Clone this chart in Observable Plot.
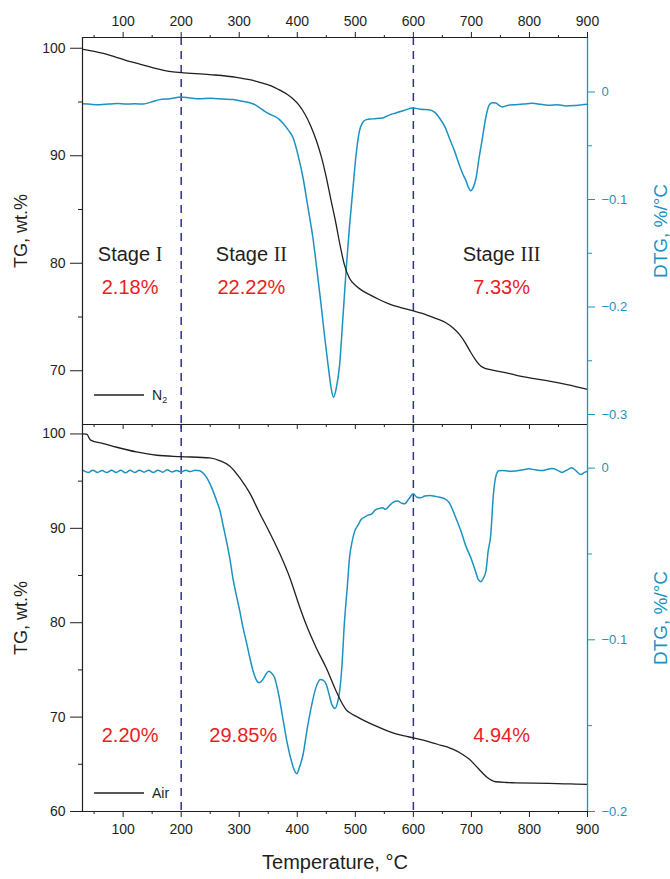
<!DOCTYPE html>
<html>
<head>
<meta charset="utf-8">
<script src="https://cdn.jsdelivr.net/npm/d3@7"></script>
<script src="https://cdn.jsdelivr.net/npm/@observablehq/plot@0.6"></script>
<style>
  body { margin: 0; background: #fff; }
  #wrap { position: relative; width: 670px; height: 879px; overflow: hidden; background: #fff; }
  #wrap svg { position: absolute; left: 0; }
</style>
</head>
<body>
<div id="wrap"></div>
<script>
// ---------------- DATA ----------------
const xDomain = [30, 900];
const xMajor = [100, 200, 300, 400, 500, 600, 700, 800, 900];
const xMinor = [50, 150, 250, 350, 450, 550, 650, 750, 850];
const stageBounds = [200, 600];

const stageNames = ["Stage I", "Stage II", "Stage III"];
const stageLabelT = [112, 321, 752];
const n2Percents = ["2.18%", "22.22%", "7.33%"];
const airPercents = ["2.20%", "29.85%", "4.94%"];
const airPercentT = [112, 307, 752];

// N2 panel
const n2TgDomain = [65, 101];
const n2DtgDomain = [-0.3093, 0.0507];
const n2TgMajor = [70, 80, 90, 100];
const n2TgMinor = [75, 85, 95];
const n2DtgMajor = [0, -0.1, -0.2, -0.3];
const n2DtgMinor = [-0.05, -0.15, -0.25];

const n2TgTemp = [31.5,50,66,86,106,130,152,170,186,200,249,295,320,335,355,370,383,393,403,413,423,433,442,450,458,467,474,481,490,501,512,524,540,559,580,600,614,627,642,656,668,679,690,699,708,716,725,736,756,776,805,834,865,900];
const n2TgValue = [99.9,99.7,99.53,99.2,98.85,98.5,98.17,97.95,97.8,97.73,97.55,97.3,97.05,96.83,96.5,96.1,95.7,95.28,94.7,93.88,92.8,91.4,89.8,87.98,85.9,83.6,81.6,79.9,78.6,77.9,77.45,77.1,76.65,76.2,75.85,75.56,75.35,75.1,74.8,74.47,74.0,73.4,72.55,71.7,70.95,70.44,70.2,70.06,69.85,69.6,69.3,69.04,68.7,68.26];

const n2DtgTemp = [31,45,60,75,90,105,120,135,150,163,180,200,215,232,250,272,290,306,318,327,336,344,352,361,368,375,384,393,401,410,418,427,434,441,447,453,458,462.5,467,473,478,484,490,496,501,507,512,519,530,547,558,570,585,599,612,627,637,645,654,662,671,679,685,691,695,699,703,708,713,719,725,731,736,742,748,753,762,776,790,805,820,834,848,863,880,900];
const n2DtgValue = [-0.0110,-0.0115,-0.0118,-0.0112,-0.0108,-0.0112,-0.0110,-0.0112,-0.0090,-0.0071,-0.0062,-0.0046,-0.0055,-0.0062,-0.0058,-0.0065,-0.0070,-0.0087,-0.0100,-0.0118,-0.0150,-0.0180,-0.0205,-0.0226,-0.0250,-0.0288,-0.0350,-0.0428,-0.0580,-0.0800,-0.1060,-0.1358,-0.1660,-0.1978,-0.2270,-0.2536,-0.2740,-0.2840,-0.2760,-0.2536,-0.2150,-0.1668,-0.1250,-0.0893,-0.0600,-0.0366,-0.0290,-0.0257,-0.0250,-0.0242,-0.0215,-0.0195,-0.0170,-0.0149,-0.0160,-0.0164,-0.0190,-0.0242,-0.0320,-0.0428,-0.0550,-0.0676,-0.0760,-0.0831,-0.0890,-0.0918,-0.0890,-0.0800,-0.0620,-0.0428,-0.0230,-0.0118,-0.0100,-0.0102,-0.0125,-0.0139,-0.0125,-0.0118,-0.0112,-0.0105,-0.0115,-0.0124,-0.0118,-0.0130,-0.0125,-0.0115];

// Air panel
const airTgDomain = [60, 101];
const airDtgDomain = [-0.2, 0.0254];
const airTgMajor = [60, 70, 80, 90, 100];
const airTgMinor = [65, 75, 85, 95];
const airDtgMajor = [0, -0.1, -0.2];
const airDtgMinor = [-0.05, -0.15];

const airTgTemp = [31.5,38,41,44,66,89,123,158,200,249,266,284,301,318,335,352,370,387,404,416,433,450,467,476,484,492,501,518,536,553,570,585,600,617,633,648,662,675,685,697,708,718,728,735,742,760,776,834,870,900];
const airTgValue = [100.0,99.95,99.6,99.35,98.98,98.59,98.09,97.74,97.6,97.46,97.18,96.58,95.34,93.75,91.63,89.6,87.3,84.8,81.7,79.7,77.3,75.2,72.75,71.6,70.8,70.4,70.1,69.55,69.04,68.6,68.23,68.0,67.8,67.55,67.28,67.0,66.75,66.4,66.04,65.5,64.81,64.15,63.57,63.3,63.15,63.07,63.04,62.97,62.92,62.87];

const airDtgTemp = [31,40,48,56,64,72,80,88,96,104,112,120,128,136,144,152,160,168,176,184,192,200,208,216,224,232,238,244,250,255,261,267,272,278,284,289,295,301,306,312,318,324,329,334,338,342,346,351,356,361,368,375,382,390,395,399,404,410,417,425,432,440,445,450,455,460,465,469,473,477,481,486,490,495,499,505,510,516,522,528,534,540,547,552,558,565,573,580,585,592,600,606,612,620,628,640,653,662,672,682,690,699,706,712,716,720,725,729,733,738,742,747,753,765,776,788,799,810,822,830,839,848,856,865,873,880,888,895,900];
const airDtgValue = [-0.0013,-0.0025,-0.0012,-0.0025,-0.0014,-0.0026,-0.0012,-0.0025,-0.0013,-0.0027,-0.0013,-0.0025,-0.0012,-0.0024,-0.0012,-0.0026,-0.0012,-0.0024,-0.0010,-0.0022,-0.0014,-0.0022,-0.0013,-0.0020,-0.0012,-0.0015,-0.0030,-0.0056,-0.0095,-0.0134,-0.0190,-0.0250,-0.0330,-0.0425,-0.0530,-0.0639,-0.0740,-0.0833,-0.0920,-0.1008,-0.1100,-0.1183,-0.1230,-0.1250,-0.1243,-0.1225,-0.1200,-0.1183,-0.1195,-0.1221,-0.1320,-0.1454,-0.1590,-0.1707,-0.1760,-0.1780,-0.1740,-0.1668,-0.1520,-0.1377,-0.1280,-0.1231,-0.1236,-0.1260,-0.1320,-0.1380,-0.1400,-0.1370,-0.1299,-0.1150,-0.0911,-0.0700,-0.0522,-0.0420,-0.0367,-0.0330,-0.0299,-0.0285,-0.0274,-0.0268,-0.0245,-0.0236,-0.0231,-0.0240,-0.0221,-0.0200,-0.0192,-0.0205,-0.0208,-0.0180,-0.0150,-0.0170,-0.0173,-0.0162,-0.0159,-0.0166,-0.0177,-0.0202,-0.0280,-0.0367,-0.0450,-0.0522,-0.0590,-0.0650,-0.0662,-0.0645,-0.0600,-0.0480,-0.0400,-0.0150,-0.0050,-0.0015,-0.0014,-0.0018,-0.0017,-0.0010,-0.0004,-0.0010,-0.0014,-0.0008,-0.0002,-0.0012,-0.0025,-0.0010,0.0002,-0.0015,-0.0037,-0.0025,-0.0017];

// ---------------- STYLE ----------------
const BLACK = "#231f20";
const TEAL = "#1b92c2";
const RED = "#ec1c24";
const NAVY = "#2e3192";
const SANS = "'Liberation Sans', Arial, Helvetica, sans-serif";
const TICKFONT = "'Liberation Sans Narrow', 'Liberation Sans', Arial, sans-serif";
const SERIF = "'Liberation Serif', 'Times New Roman', serif";

function buildPanel(cfg) {
  const s = (cfg.tgDom[1] - cfg.tgDom[0]) / (cfg.dtgDom[1] - cfg.dtgDom[0]);
  const fwd = d => cfg.tgDom[0] + (d - cfg.dtgDom[0]) * s;
  const inv = t => cfg.dtgDom[0] + (t - cfg.tgDom[0]) / s;
  const fmt = t => {
    const r = Math.round(inv(t) * 100) / 100;
    return r === 0 ? "0" : (r < 0 ? "\u2212" : "") + Math.abs(r);
  };
  const tg = cfg.tgT.map((T, i) => ({T, v: cfg.tgV[i]}));
  const dtg = cfg.dtgT.map((T, i) => ({T, v: fwd(cfg.dtgV[i])}));
  const blank = () => "";

  const marks = [
    Plot.ruleX(stageBounds, {stroke: NAVY, strokeWidth: 1.5, strokeDasharray: "8,6"}),
    Plot.line(dtg, {x: "T", y: "v", stroke: TEAL, strokeWidth: 1.5, curve: "monotone-x"}),
    Plot.line(tg, {x: "T", y: "v", stroke: BLACK, strokeWidth: 1.3, curve: "monotone-x"}),
    Plot.ruleY([cfg.tgDom[1]], {stroke: BLACK, strokeWidth: 1.2}),
    Plot.ruleY([cfg.tgDom[0]], {stroke: BLACK, strokeWidth: 1.2}),
    Plot.ruleX([xDomain[0]], {stroke: BLACK, strokeWidth: 1.2}),
    Plot.ruleX([xDomain[1]], {stroke: TEAL, strokeWidth: 1.3}),
    Plot.axisY(cfg.tgMajor, {anchor: "left", tickSize: 12, tickPadding: 5, label: null, color: BLACK, stroke: BLACK, fill: BLACK, fontSize: 14}),
    Plot.axisY(cfg.tgMinor, {anchor: "left", tickSize: 4, tickFormat: blank, label: null, color: BLACK, stroke: BLACK}),
    Plot.axisY(cfg.dtgMajor.map(fwd), {anchor: "right", tickSize: 7, tickPadding: 7, tickFormat: fmt, label: null, color: TEAL, stroke: TEAL, fill: TEAL, fontSize: 13, fontFamily: SANS}),
    Plot.axisY(cfg.dtgMinor.map(fwd), {anchor: "right", tickSize: 4, tickFormat: blank, label: null, color: TEAL, stroke: TEAL}),
    // axis titles: anchored at frame centre, shifted horizontally
    Plot.text(["TG, wt.%"], {frameAnchor: "middle", dx: -313.5, rotate: -90, textAnchor: "middle", fontSize: 18, fontFamily: SANS, fill: BLACK}),
    Plot.text(["DTG, %/\u00B0C"], {frameAnchor: "middle", dx: 326, rotate: -90, textAnchor: "middle", fontSize: 19, fontFamily: SANS, fill: TEAL}),
    ...cfg.extra
  ];

  const svg = Plot.plot({
    width: 670, height: cfg.height,
    marginLeft: 82, marginRight: 83, marginTop: cfg.mt, marginBottom: cfg.mb,
    x: {domain: xDomain, axis: null, label: null},
    y: {domain: cfg.tgDom, axis: null, label: null},
    style: {fontFamily: TICKFONT, fontSize: "14px", background: "transparent", overflow: "visible", color: BLACK},
    marks
  });
  svg.style.top = cfg.top + "px";

  // Serif roman numerals in stage labels
  svg.querySelectorAll("text").forEach(t => {
    const m = /^Stage (I+)$/.exec(t.textContent);
    if (m) {
      t.textContent = "Stage\u00A0";
      const ts = document.createElementNS("http://www.w3.org/2000/svg", "tspan");
      ts.setAttribute("font-family", SERIF);
      ts.textContent = m[1];
      t.appendChild(ts);
    }
  });

  // Legend swatch
  const g = d3.select(svg).append("g").attr("text-anchor", "start");
  g.append("line").attr("x1", 94).attr("x2", 144).attr("y1", cfg.legendY).attr("y2", cfg.legendY)
    .attr("stroke", BLACK).attr("stroke-width", 1.3);
  const tx = g.append("text").attr("x", 152).attr("y", cfg.legendY + 5).attr("text-anchor", "start")
    .attr("font-size", 14).attr("font-family", SANS).attr("fill", BLACK);
  tx.append("tspan").text(cfg.legendMain);
  if (cfg.legendSub) tx.append("tspan").attr("font-size", 9).attr("dy", 3).text(cfg.legendSub);
  return svg;
}

const wrap = document.getElementById("wrap");

const topSvg = buildPanel({
  tgT: n2TgTemp, tgV: n2TgValue, dtgT: n2DtgTemp, dtgV: n2DtgValue,
  tgDom: n2TgDomain, dtgDom: n2DtgDomain,
  tgMajor: n2TgMajor, tgMinor: n2TgMinor, dtgMajor: n2DtgMajor, dtgMinor: n2DtgMinor,
  height: 430, mt: 37, mb: 6, top: 0, legendY: 395, legendMain: "N", legendSub: "2",
  extra: [
    Plot.axisX(xMajor, {anchor: "top", tickSize: 6, tickPadding: 6, label: null, color: BLACK, stroke: BLACK, fill: BLACK, fontSize: 14}),
    Plot.axisX(xMinor, {anchor: "top", tickSize: 3, tickFormat: () => "", label: null, color: BLACK, stroke: BLACK}),
    Plot.axisX(xMajor, {anchor: "bottom", tickSize: 5, tickFormat: () => "", label: null, color: BLACK, stroke: BLACK}),
    Plot.axisX(xMinor, {anchor: "bottom", tickSize: 3, tickFormat: () => "", label: null, color: BLACK, stroke: BLACK}),
    Plot.text(stageNames, {x: (d, i) => stageLabelT[i], text: d => d, frameAnchor: "top", dy: 209, fontSize: 20, fontFamily: SANS, fill: BLACK}),
    Plot.text(n2Percents, {x: (d, i) => stageLabelT[i], text: d => d, frameAnchor: "top", dy: 242, fontSize: 20, fontFamily: SANS, fill: RED})
  ]
});

const botSvg = buildPanel({
  tgT: airTgTemp, tgV: airTgValue, dtgT: airDtgTemp, dtgV: airDtgValue,
  tgDom: airTgDomain, dtgDom: airDtgDomain,
  tgMajor: airTgMajor, tgMinor: airTgMinor, dtgMajor: airDtgMajor, dtgMinor: airDtgMinor,
  height: 465, mt: 10, mb: 68, top: 414, legendY: 379, legendMain: "Air", legendSub: null,
  extra: [
    Plot.axisX(xMajor, {anchor: "bottom", tickSize: 6, tickPadding: 7, label: null, color: BLACK, stroke: BLACK, fill: BLACK, fontSize: 14}),
    Plot.axisX(xMinor, {anchor: "bottom", tickSize: 3, tickFormat: () => "", label: null, color: BLACK, stroke: BLACK}),
    Plot.text(airPercents, {x: (d, i) => airPercentT[i], text: d => d, frameAnchor: "top", dy: 303, fontSize: 20, fontFamily: SANS, fill: RED}),
    Plot.text(["Temperature, \u00B0C"], {frameAnchor: "bottom", dy: 57, fontSize: 20, fontFamily: SANS, fill: BLACK})
  ]
});

topSvg.style.background = "#fff";
wrap.appendChild(topSvg);
wrap.appendChild(botSvg);
</script>
</body>
</html>
